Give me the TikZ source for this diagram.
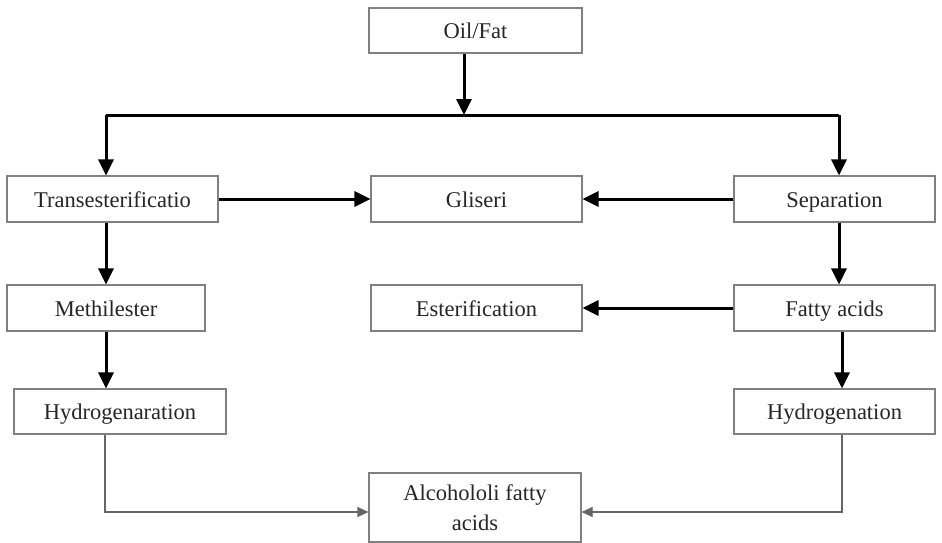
\documentclass[tikz,border=0pt]{standalone}
\usepackage{fontspec}
\setmainfont{Liberation Serif}
\usetikzlibrary{arrows.meta}
\begin{document}
\begin{tikzpicture}[
    x=1pt, y=-1pt,
    stagebox/.style={draw=black!50, line width=1.1pt, fill=white, inner sep=0pt, minimum height=46pt,
      font=\fontsize{22.5}{30}\selectfont, text=black!85, align=center},
    stage/.style={stagebox, text height=18pt, text depth=2pt},
    flow/.style={line width=3pt, -{Triangle[length=16pt,width=15pt]}},
    link/.style={line width=3pt},
    thin/.style={draw=black!60, line width=1.1pt, -{Triangle[length=11pt,width=10pt]}},
]
\useasboundingbox (0,0) rectangle (942,543);

% Top
\node[stage, minimum width=213pt, minimum height=45pt] (oil) at (475.5,30.5) {Oil/Fat};

% First row
\node[stage, minimum width=211pt] (trans) at (112.5,199) {Transesterificatio};
\node[stage, minimum width=211pt] (gli) at (476.5,199) {Gliseri};
\node[stage, minimum width=201pt] (sep) at (834.5,199) {Separation};

% Second row
\node[stage, minimum width=198pt] (meth) at (106,308) {Methilester};
\node[stage, minimum width=211pt] (est) at (476.5,308) {Esterification};
\node[stage, minimum width=201pt] (fatty) at (834.5,308) {Fatty acids};

% Third row
\node[stage, minimum width=212pt, minimum height=45pt] (hydl) at (120,411.5) {Hydrogenaration};
\node[stage, minimum width=201pt, minimum height=45pt] (hydr) at (834.5,411.5) {Hydrogenation};

% Product
\node[stagebox, minimum width=212pt, minimum height=69pt] (alc) at (475,507.5) {Alcohololi fatty\\acids};

% Split
\coordinate (split) at (464,115);
\coordinate (lt) at (106,115);
\coordinate (rt) at (839,115);
\draw[flow] (oil.south -| split) -- (split);
\draw[link] (lt) -- (rt);
\draw[flow] (lt) -- (lt |- trans.north);
\draw[flow] (rt) -- (rt |- sep.north);

% Left branch
\draw[flow] (trans.east) -- (gli.west);
\draw[flow] (meth.north |- trans.south) -- (meth.north);
\draw[flow] (meth.south) -- (meth.south |- hydl.north);

% Right branch
\draw[flow] (sep.west) -- (gli.east);
\draw[flow] (rt |- sep.south) -- (rt |- fatty.north);
\draw[flow] (fatty.west) -- (est.east);
\coordinate (rd) at (842,512);
\draw[flow] (rd |- fatty.south) -- (rd |- hydr.north);

% To product
\coordinate (ld) at (105,512);
\draw[thin] (ld |- hydl.south) -- (ld) -- (alc.west |- ld);
\draw[thin] (rd |- hydr.south) -- (rd) -- (alc.east |- rd);
\end{tikzpicture}
\end{document}
